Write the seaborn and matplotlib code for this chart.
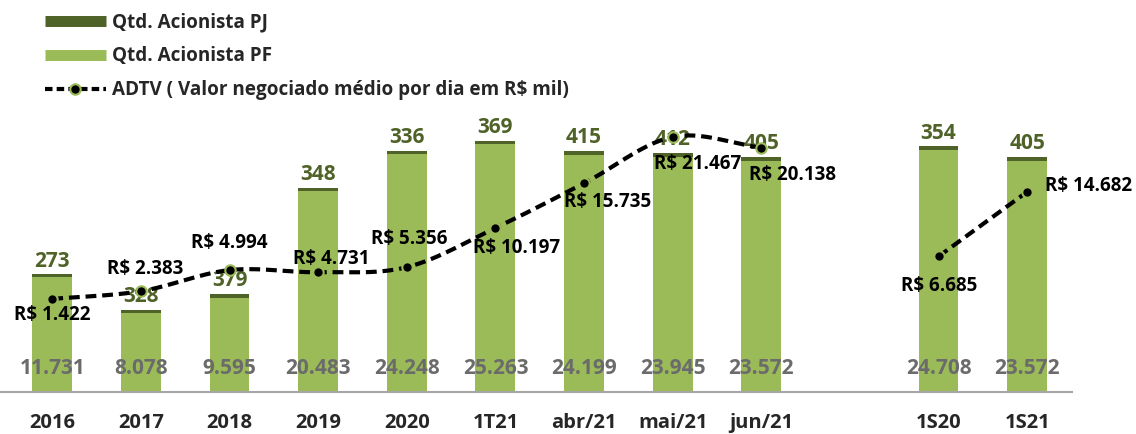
import numpy as np
import pandas as pd
import matplotlib
matplotlib.use("Agg")
import matplotlib.pyplot as plt
import seaborn as sns
from matplotlib.lines import Line2D

sns.set_style("white")
plt.rcParams['font.family'] = ['Open Sans', 'DejaVu Sans']
plt.rcParams['font.weight'] = 'bold'

# data
periods = ['2016', '2017', '2018', '2019', '2020', '1T21', 'abr/21', 'mai/21', 'jun/21', '1S20', '1S21']
pf_holders = [11731, 8078, 9595, 20483, 24248, 25263, 24199, 23945, 23572, 24708, 23572]
pj_holders = [273, 328, 379, 348, 336, 369, 415, 412, 405, 354, 405]
adtv_monthly = [1422, 2383, 4994, 4731, 5356, 10197, 15735, 21467, 20138]
adtv_semester = [6685, 14682]

order = periods[:9] + [' '] + periods[9:]

PF_COLOR = '#9BBB59'
PJ_COLOR = '#4F6228'
GRAY = '#6B6B6B'

df = pd.DataFrame({'period': periods, 'pf': pf_holders, 'pj': pj_holders})
df['total'] = df['pf'] + df['pj']


def fmt(v):
    return f"{v:,.0f}".replace(',', '.')


def smooth(xs, ys, n=30):
    # Catmull-Rom style smoothing, like Excel's smoothed line
    xs = np.asarray(xs, float)
    ys = np.asarray(ys, float)
    px = np.concatenate([[2 * xs[0] - xs[1]], xs, [2 * xs[-1] - xs[-2]]])
    py = np.concatenate([[2 * ys[0] - ys[1]], ys, [2 * ys[-1] - ys[-2]]])
    outx, outy = [], []
    t = np.linspace(0, 1, n)
    for i in range(1, len(px) - 2):
        for p, out in ((px, outx), (py, outy)):
            p0, p1, p2, p3 = p[i - 1], p[i], p[i + 1], p[i + 2]
            out.extend(0.5 * ((2 * p1) + (-p0 + p2) * t
                              + (2 * p0 - 5 * p1 + 4 * p2 - p3) * t ** 2
                              + (-p0 + 3 * p1 - 3 * p2 + p3) * t ** 3))
    return np.array(outx), np.array(outy)


fig = plt.figure(figsize=(11.36, 4.34), dpi=100)
ax = fig.add_axes([0, 0.0968, 0.944, 0.673])

sns.barplot(data=df, x='period', y='total', order=order, color=PJ_COLOR,
            saturation=1, width=0.45, edgecolor='none', linewidth=0, ax=ax)
sns.barplot(data=df, x='period', y='pf', order=order, color=PF_COLOR,
            saturation=1, width=0.45, edgecolor='none', linewidth=0, ax=ax)

xpos = {p: order.index(p) for p in periods}

for p, pf, pj, tot in zip(periods, pf_holders, pj_holders, df['total']):
    ax.text(xpos[p], 2400, fmt(pf), ha='center', va='center', color=GRAY,
            fontsize=15, fontweight='bold')
    ax.annotate(str(pj), (xpos[p], tot), xytext=(0, 2), textcoords='offset points',
                ha='center', va='bottom', color=PJ_COLOR, fontsize=15, fontweight='bold')

ax.set_xlim(-0.59, 11.51)
ax.set_ylim(0, 29800)
ax.set_xlabel('')
ax.set_ylabel('')
ax.set_yticks([])
ax.tick_params(axis='x', length=0, pad=15, labelsize=14.5)
for lab in ax.get_xticklabels():
    lab.set_fontweight('bold')
for s in ['top', 'right', 'left']:
    ax.spines[s].set_visible(False)
ax.spines['bottom'].set_color('#A6A6A6')
ax.spines['bottom'].set_linewidth(1.5)

ax2 = ax.twinx()
ax2.set_ylim(-10090, 26050)
ax2.set_yticks([])
for s in ax2.spines.values():
    s.set_visible(False)

line_kw = dict(color='black', lw=3, dashes=(2.6, 1.4), solid_capstyle='butt')
xm = [xpos[p] for p in periods[:9]]
xs_ = [xpos[p] for p in periods[9:]]
sx, sy = smooth(xm, adtv_monthly)
ax2.plot(sx, sy, **line_kw)
ax2.plot(xs_, adtv_semester, **line_kw)
ax2.plot(xm + xs_, adtv_monthly + adtv_semester, 'o', ms=7.5, mfc='black',
         mec=PF_COLOR, mew=1.5, ls='none')

# label offsets in pixels (dx, dy downward positive)
offsets = [(0, 16), (4, -22), (0, -27), (13, -13), (2, -28), (21, 20),
           (24, 19), (25, 27), (31, 27), (1, 30), (61, -6)]
for x, v, (dx, dy) in zip(xm + xs_, adtv_monthly + adtv_semester, offsets):
    ax2.annotate('R$ ' + fmt(v), (x, v), xytext=(dx * 0.72, -dy * 0.72),
                 textcoords='offset points', ha='center', va='center',
                 fontsize=13.5, fontweight='bold', color='black')

handles = [
    Line2D([], [], color=PJ_COLOR, lw=7.9, solid_capstyle='butt'),
    Line2D([], [], color=PF_COLOR, lw=7.9, solid_capstyle='butt'),
    Line2D([], [], color='black', lw=3, dashes=(1.8, 1), marker='o', ms=7.5,
           mfc='black', mec=PF_COLOR, mew=1.5),
]
labels = ['Qtd. Acionista PJ', 'Qtd. Acionista PF',
          'ADTV ( Valor negociado médio por dia em R$ mil)']
leg = fig.legend(handles, labels, loc='upper left', bbox_to_anchor=(0.0396, 0.972),
                 frameon=False, borderpad=0, borderaxespad=0,
                 handlelength=3.23, handletextpad=0.32,
                 labelspacing=0.75, prop={'size': 13.6, 'weight': 'bold'})

fig.savefig('out.png', dpi=100)
